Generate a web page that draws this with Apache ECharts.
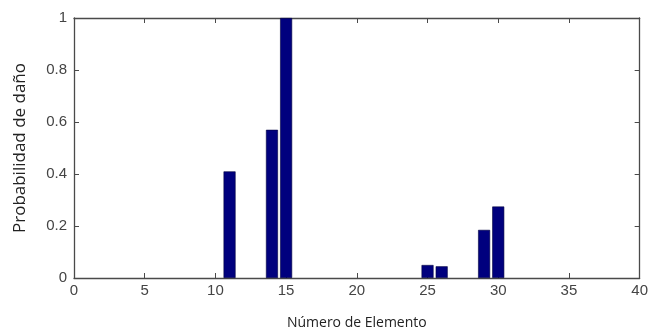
<!DOCTYPE html>
<html><head><meta charset="utf-8">
<script src="https://cdn.jsdelivr.net/npm/echarts@6/dist/echarts.min.js"></script>
<style>html,body{margin:0;padding:0;background:#fff}#c{width:651px;height:335px}</style>
</head><body><div id="c"></div>
<script>
const elements = [11, 14, 15, 25, 26, 29, 30];
const probabilities = [0.41, 0.57, 1.0, 0.05, 0.045, 0.185, 0.275];
const xTicks = [0, 5, 10, 15, 20, 25, 30, 35, 40];
const yTicks = [0, 0.2, 0.4, 0.6, 0.8, 1];
const xTitle = 'Número de Elemento';
const yTitle = 'Probabilidad de daño';

const chart = echarts.init(document.getElementById('c'), null, {renderer: 'canvas'});
const font = 'Liberation Sans, Arial, sans-serif';
const titleFont = 'Open Sans, Noto Sans, sans-serif';
const axCol = '#4a4a4a';
const common = {
  axisLine: {show: true, onZero: false, lineStyle: {color: axCol, width: 1.3}},
  axisTick: {show: true, inside: true, length: 5, lineStyle: {color: axCol}},
  splitLine: {show: false}
};
chart.setOption({
  animation: false,
  grid: {left: 74, right: 9, top: 18, bottom: 57},
  xAxis: [
    Object.assign({type: 'value', min: 0, max: 40, interval: 5, position: 'bottom',
      name: xTitle, nameLocation: 'middle', nameGap: 38,
      nameTextStyle: {fontFamily: titleFont, fontSize: 14, color: '#222'},
      axisLabel: {fontFamily: font, fontSize: 15, color: '#444', margin: 5,
        formatter: v => xTicks.includes(v) ? String(v) : ''}}, common),
    Object.assign({type: 'value', min: 0, max: 40, interval: 5, position: 'top',
      axisLabel: {show: false}}, common)
  ],
  yAxis: [
    Object.assign({type: 'value', min: 0, max: 1, interval: 0.2, position: 'left',
      name: yTitle, nameLocation: 'middle', nameGap: 45,
      nameTextStyle: {fontFamily: titleFont, fontSize: 17, color: '#222'},
      axisLabel: {fontFamily: font, fontSize: 15, color: '#444', margin: 7,
        formatter: v => { const t = yTicks.find(k => Math.abs(k - v) < 1e-9); return t === undefined ? '' : String(t); }}}, common),
    Object.assign({type: 'value', min: 0, max: 1, interval: 0.2, position: 'right',
      axisLabel: {show: false}}, common)
  ],
  series: [{
    type: 'bar',
    xAxisIndex: 0, yAxisIndex: 0,
    barWidth: 12,
    itemStyle: {color: '#00007e', borderColor: '#000040', borderWidth: 0.6},
    data: elements.map((e, i) => [e, probabilities[i]])
  }]
});
</script></body></html>
